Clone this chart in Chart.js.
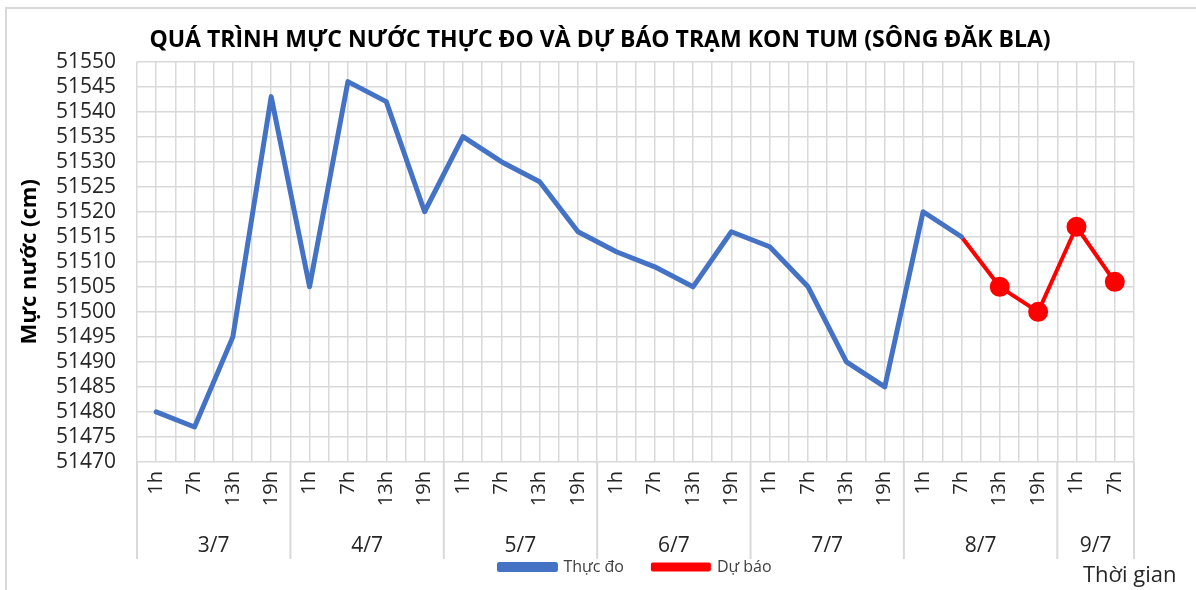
<!DOCTYPE html>
<html lang="vi">
<head>
<meta charset="utf-8">
<title>Mực nước Kon Tum</title>
<script src="https://cdn.jsdelivr.net/npm/chart.js@4.4.1/dist/chart.umd.min.js"></script>
<style>
    html, body { margin: 0; padding: 0; background: #fff; overflow: hidden; }
    .khung {
        position: absolute; left: 5px; top: 7px; width: 1300px; height: 700px;
        border-left: 2px solid #d9d9d9; border-top: 2px solid #d9d9d9;
    }
    .hop-bieu-do { position: absolute; left: 0; top: 0; width: 1196px; height: 590px; }
</style>
</head>
<body>
<div class="khung"></div>
<div class="hop-bieu-do"><canvas id="mucNuocChart"></canvas></div>
<script>
// Ngày và các mốc giờ trong từng ngày
const ngay = ["3/7", "4/7", "5/7", "6/7", "7/7", "8/7", "9/7"];
const gioQuanTrac = ["1h", "7h", "13h", "19h"];
const soMocMoiNgay = [4, 4, 4, 4, 4, 4, 2];

// Mực nước thực đo (cm)
const thucDo = [
    51480, 51477, 51495, 51543,
    51505, 51546, 51542, 51520,
    51535, 51530, 51526, 51516,
    51512, 51509, 51505, 51516,
    51513, 51505, 51490, 51485,
    51520, 51515, null, null,
    null, null,
];

// Mực nước dự báo (cm), nối tiếp từ điểm thực đo cuối
const duBao = [
    null, null, null, null,
    null, null, null, null,
    null, null, null, null,
    null, null, null, null,
    null, null, null, null,
    null, 51515, 51505, 51500,
    51517, 51506,
];

// Trục tung
const yMin = 51470;
const yMax = 51550;
const yBuoc = 5;

// Nhãn trục hoành: mỗi ngày lấy số mốc giờ tương ứng
const nhanGio = [];
soMocMoiNgay.forEach((n) => {
    for (let i = 0; i < n; i++) nhanGio.push(gioQuanTrac[i]);
});
const viTriNoi = thucDo.length - 1 - [...thucDo].reverse().findIndex((v) => v !== null);

const FONT = "'Open Sans', 'Noto Sans', sans-serif";
const MAU_LUOI = "#d9d9d9";

// Vẽ nhãn ngày, vạch chia ngày và chữ "Thời gian"
const nhanNgayPlugin = {
    id: "nhanNgay",
    afterDraw(chart) {
        const ctx = chart.ctx;
        const xs = chart.scales.x;
        const area = chart.chartArea;
        const nua = (xs.getPixelForTick(1) - xs.getPixelForTick(0)) / 2;
        const day = area.bottom + 97;

        ctx.save();
        ctx.strokeStyle = MAU_LUOI;
        ctx.lineWidth = 2;
        ctx.fillStyle = "#262626";
        ctx.font = "21px " + FONT;
        ctx.textAlign = "center";
        ctx.textBaseline = "middle";

        let idx = 0;
        const x0 = xs.getPixelForTick(0) - nua;
        ctx.beginPath();
        ctx.moveTo(x0, area.bottom);
        ctx.lineTo(x0, day);
        ctx.stroke();
        ngay.forEach((d, i) => {
            const n = soMocMoiNgay[i];
            const trai = xs.getPixelForTick(idx) - nua;
            const phai = xs.getPixelForTick(idx + n - 1) + nua;
            ctx.beginPath();
            ctx.moveTo(phai, area.bottom);
            ctx.lineTo(phai, day);
            ctx.stroke();
            ctx.fillText(d, (trai + phai) / 2, area.bottom + 84);
            idx += n;
        });

        ctx.textAlign = "left";
        ctx.font = "22px " + FONT;
        ctx.fillText("Thời gian", area.right - 51, area.bottom + 114);
        ctx.restore();
    },
};

document.addEventListener("DOMContentLoaded", function () {
    const el = document.getElementById("mucNuocChart");
    if (!el) return;

    new Chart(el.getContext("2d"), {
        type: "line",
        data: {
            labels: nhanGio,
            datasets: [
                {
                    label: "Thực đo",
                    data: thucDo,
                    borderColor: "#4472c4",
                    backgroundColor: "#4472c4",
                    borderWidth: 5,
                    pointRadius: 0,
                    borderJoinStyle: "round",
                    borderCapStyle: "round",
                    tension: 0,
                },
                {
                    label: "Dự báo",
                    data: duBao,
                    borderColor: "#ff0000",
                    backgroundColor: "#ff0000",
                    borderWidth: 4,
                    pointRadius: (c) => (c.dataIndex > viTriNoi ? 8 : 0),
                    pointBackgroundColor: "#ff0000",
                    pointBorderColor: "#ff0000",
                    borderJoinStyle: "round",
                    tension: 0,
                },
            ],
        },
        options: {
            responsive: true,
            maintainAspectRatio: false,
            animation: false,
            layout: { padding: { left: 4, right: 0, top: 0, bottom: 5 } },
            plugins: {
                tooltip: { enabled: false },
                title: {
                    display: true,
                    text: "QUÁ TRÌNH MỰC NƯỚC THỰC ĐO VÀ DỰ BÁO TRẠM KON TUM (SÔNG ĐĂK BLA)",
                    color: "#000",
                    font: { family: FONT, size: 23, weight: "bold" },
                    padding: { top: 27, bottom: 7 },
                },
                legend: {
                    position: "bottom",
                    fullSize: false,
                    labels: {
                        color: "#404040",
                        font: { family: FONT, size: 16 },
                        boxWidth: 56,
                        boxHeight: 5,
                        padding: 4,
                        // thêm khoảng trống sau chữ để tách hai mục chú giải
                        generateLabels: (chart) =>
                            Chart.defaults.plugins.legend.labels
                                .generateLabels(chart)
                                .map((item, i, arr) => {
                                    if (i < arr.length - 1) item.text += "      ";
                                    return item;
                                }),
                    },
                },
            },
            scales: {
                x: {
                    type: "category",
                    offset: true,
                    grid: { color: MAU_LUOI, lineWidth: 1.5, offset: true, drawTicks: false },
                    border: { display: false },
                    ticks: {
                        color: "#262626",
                        font: { family: FONT, size: 20 },
                        minRotation: 90,
                        maxRotation: 90,
                        padding: 9,
                        autoSkip: false,
                    },
                    afterFit: (s) => { s.height = 93; },
                },
                x2: {
                    type: "category",
                    labels: nhanGio,
                    position: "top",
                    offset: true,
                    grid: { color: MAU_LUOI, lineWidth: 1.5, offset: false, drawTicks: false },
                    border: { display: false },
                    ticks: { display: false },
                },
                y: {
                    min: yMin,
                    max: yMax,
                    grid: { color: MAU_LUOI, lineWidth: 1.5, drawTicks: false },
                    border: { display: false },
                    ticks: {
                        stepSize: yBuoc,
                        maxTicksLimit: 30,
                        autoSkip: false,
                        callback: (v) => String(v),
                        color: "#262626",
                        font: { family: FONT, size: 21 },
                        padding: 21,
                    },
                    title: {
                        display: true,
                        text: "Mực nước (cm)",
                        color: "#000",
                        font: { family: FONT, size: 22, weight: "bold" },
                        padding: { top: 13, bottom: 0 },
                    },
                    afterFit: (s) => { s.width = 133; },
                },
                yPhai: {
                    position: "right",
                    display: true,
                    grid: { display: false },
                    border: { display: false },
                    ticks: { display: false },
                    afterFit: (s) => { s.width = 62; },
                },
            },
        },
        plugins: [nhanNgayPlugin],
    });
});
</script>
</body>
</html>
